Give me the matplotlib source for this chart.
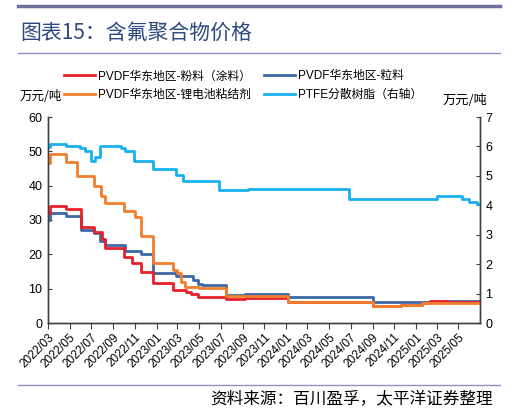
import numpy as np
import pandas as pd
import matplotlib
matplotlib.use('Agg')
import matplotlib.pyplot as plt
import matplotlib.dates as mdates

plt.rcParams['font.family'] = ['Liberation Sans', 'Noto Sans CJK SC', 'DejaVu Sans']

# step change points (date, value)
red_dates = ['2022-03-01', '2022-03-08', '2022-04-22', '2022-06-03', '2022-07-10', '2022-07-30',
             '2022-08-08', '2022-10-01', '2022-10-25', '2022-11-19', '2022-12-22', '2023-02-17',
             '2023-03-25', '2023-04-09', '2023-04-27', '2023-07-16', '2023-09-07', '2024-01-07',
             '2024-09-01', '2024-11-19', '2025-01-19', '2025-02-10', '2025-04-01', '2025-06-28']
red_vals = [31.9, 34.1, 33.1, 28.0, 26.6, 24.5, 21.7, 19.2, 17.6, 15.0, 11.7, 9.6,
            9.1, 8.5, 7.7, 6.9, 7.2, 6.1, 4.9, 5.3, 5.7, 6.5, 6.1, 6.1]

blue_dates = ['2022-03-01', '2022-03-08', '2022-04-22', '2022-06-03', '2022-07-10', '2022-07-25',
              '2022-08-10', '2022-10-04', '2022-11-19', '2022-12-22', '2023-02-26', '2023-04-13',
              '2023-04-27', '2023-05-10', '2023-07-16', '2023-09-07', '2024-01-07', '2024-09-01',
              '2025-03-20', '2025-06-28']
blue_vals = [30.0, 31.9, 31.2, 27.2, 26.3, 24.0, 22.6, 21.0, 20.1, 14.6, 13.7, 12.5,
             11.5, 11.1, 8.2, 8.45, 7.7, 6.1, 6.3, 6.3]

orange_dates = ['2022-03-01', '2022-03-08', '2022-04-22', '2022-05-22', '2022-07-10', '2022-07-28',
                '2022-08-08', '2022-10-01', '2022-11-01', '2022-11-19', '2022-12-22', '2023-02-17',
                '2023-03-01', '2023-03-12', '2023-03-22', '2023-05-01', '2023-07-16', '2024-01-07',
                '2024-09-01', '2024-11-19', '2025-01-19', '2025-03-22', '2025-06-28']
orange_vals = [46.5, 49.2, 47.0, 42.8, 39.9, 37.0, 35.0, 32.6, 31.0, 25.2, 17.6, 15.5,
               14.5, 12.0, 10.6, 10.1, 7.8, 6.0, 5.0, 5.35, 5.75, 5.95, 5.95]

ptfe_dates = ['2022-03-01', '2022-03-08', '2022-04-22', '2022-05-30', '2022-06-14', '2022-07-01',
              '2022-07-11', '2022-07-25', '2022-09-23', '2022-10-04', '2022-10-30', '2022-12-22',
              '2023-02-26', '2023-03-16', '2023-06-26', '2023-09-16', '2024-06-28', '2025-03-01',
              '2025-05-10', '2025-06-01', '2025-06-22', '2025-06-28']
ptfe_vals = [5.99, 6.08, 6.02, 5.93, 5.84, 5.50, 5.65, 6.02, 5.93, 5.84, 5.50, 5.22,
             5.03, 4.82, 4.52, 4.56, 4.22, 4.30, 4.20, 4.10, 4.03, 4.03]

labels = ['PVDF华东地区-粉料（涂料）', 'PVDF华东地区-粒料',
          'PVDF华东地区-锂电池粘结剂', 'PTFE分散树脂（右轴）']
colors = ['#E8202A', '#3D68A6', '#F07F2E', '#18B1EE']

fig = plt.figure(figsize=(5.07, 4.12), dpi=100)
ax = fig.add_axes([48/507, 1-323/412, 432/507, 206/412])
ax2 = ax.twinx()

l1, = ax.plot(pd.to_datetime(red_dates), red_vals, drawstyle='steps-post', color=colors[0], lw=2, zorder=3)
l2, = ax.plot(pd.to_datetime(blue_dates), blue_vals, drawstyle='steps-post', color=colors[1], lw=2, zorder=2)
l3, = ax.plot(pd.to_datetime(orange_dates), orange_vals, drawstyle='steps-post', color=colors[2], lw=2, zorder=4)
l4, = ax2.plot(pd.to_datetime(ptfe_dates), ptfe_vals, drawstyle='steps-post', color=colors[3], lw=2)

ax.set_xlim(pd.Timestamp('2022-03-01'), pd.Timestamp('2025-07-01'))
ax.set_ylim(0, 60)
ax2.set_ylim(0, 7)
ax.set_yticks(range(0, 61, 10))
ax2.set_yticks(range(0, 8))
xt = pd.date_range('2022-03-01', '2025-05-01', freq='2MS')
ax.set_xticks(xt)
ax.set_xticklabels([d.strftime('%Y/%m') for d in xt], rotation=45, ha='right',
                   rotation_mode='anchor', fontsize=8.5)

spc = '#404040'
for a in (ax, ax2):
    for s in a.spines.values():
        s.set_color(spc)
        s.set_linewidth(1)
    a.spines['top'].set_visible(False)
ax.tick_params(axis='y', direction='in', length=3, labelsize=9, color=spc, pad=4)
ax2.tick_params(axis='y', direction='in', length=3, labelsize=9, color=spc, pad=4)
ax.tick_params(axis='x', direction='out', length=4, color=spc, pad=2)

# legend fills column by column: red/orange left, blue/ptfe right
fig.legend([l1, l3, l2, l4], [labels[0], labels[2], labels[1], labels[3]],
           loc='upper left', bbox_to_anchor=(0.105, 0.855),
           ncol=2, frameon=False, fontsize=8.5, handlelength=2.6, handletextpad=0.3,
           columnspacing=1.1, labelspacing=0.55)

fig.text(20/507, 1-97/412, '万元/吨', fontsize=9, va='center', ha='left', family='Noto Sans CJK SC')
fig.text(487/507, 1-100/412, '万元/吨', fontsize=9.5, va='center', ha='right', family='Noto Sans CJK SC')

fig.text(20/507, 1-33/412, '图表15：含氟聚合物价格', fontsize=15, color='#2F4A7E', va='center',
         ha='left', family=['Noto Sans CJK SC'])
fig.add_artist(plt.Line2D([18/507, 500/507], [1-6/412, 1-6/412], color='#6E6F9E', lw=2.5))
fig.add_artist(plt.Line2D([18/507, 500/507], [1-53/412, 1-53/412], color='#8E93C2', lw=1))
fig.add_artist(plt.Line2D([18/507, 500/507], [1-385/412, 1-385/412], color='#8E93C2', lw=1))
fig.text(493/507, 1-399/412, '资料来源：百川盈孚，太平洋证券整理', fontsize=12, va='center',
         ha='right', family='Noto Sans CJK SC', style='italic')

fig.savefig('out.png', dpi=100)
